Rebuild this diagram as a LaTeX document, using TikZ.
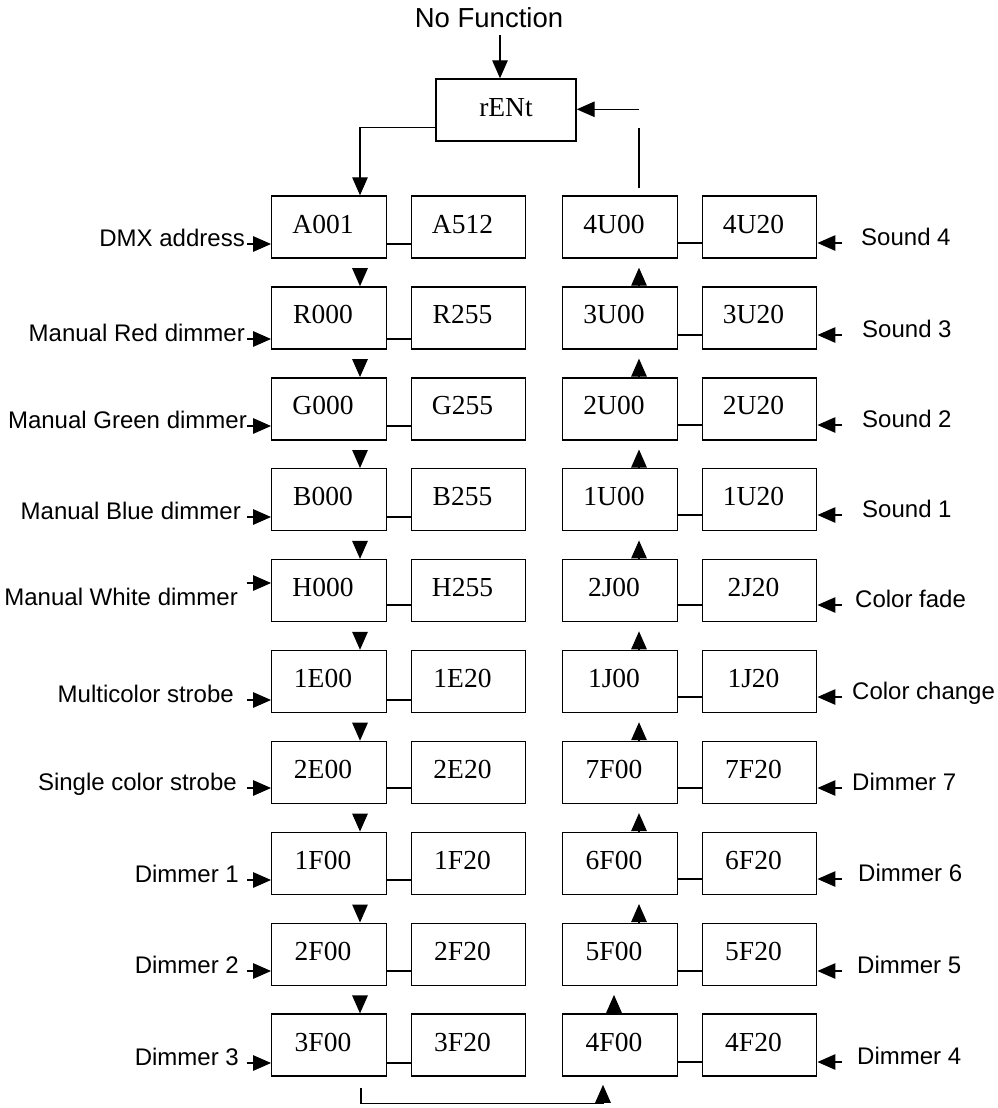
\documentclass[tikz,border=0pt]{standalone}
\usepackage{fontspec}
\setmainfont{Liberation Serif}
\newfontfamily\arialf{Liberation Sans}
\usetikzlibrary{arrows.meta}
\begin{document}
\begin{tikzpicture}[x=1pt,y=-1pt,
 >={Triangle[length=18pt,width=15.5pt]},
 box/.style={draw, line width=1.4pt, minimum width=114.5pt, minimum height=62pt, inner sep=0pt,
   text height=12pt, text depth=0pt, font=\fontsize{27.5}{30}\selectfont},
 lbl/.style={inner sep=0pt, font=\arialf\fontsize{24}{28}\selectfont},
 arr/.style={->, line width=1.3pt},
 ln/.style={line width=1.3pt}]
\useasboundingbox (0,0) rectangle (998,1108);

% top
\node[lbl, font=\arialf\fontsize{27.5}{30}\selectfont, anchor=base] (nf) at (489,28) {No Function};
\node[box, minimum width=140pt] (rent) at (506,110) {rENt};
\coordinate (nfa) at (500,35);
\draw[arr] (nfa) -- (nfa |- rent.north);

% left columns
\foreach \i/\a/\b/\lab/\lx/\ay/\cy/\by in {
0/A001/A512/DMX address/245/244/244/246,
1/R000/R255/Manual Red dimmer/245/339/339/341,
2/G000/G255/Manual Green dimmer/247/426/426/428,
3/B000/B255/Manual Blue dimmer/241/517/517/519,
4/H000/H255/Manual White dimmer/238/583/605/605,
5/1E00/1E20/Multicolor strobe/234/700/700/702,
6/2E00/2E20/Single color strobe/237/788/788/790,
7/1F00/1F20/Dimmer 1/239/880/880/882,
8/2F00/2F20/Dimmer 2/239/971/971/973,
9/3F00/3F20/Dimmer 3/239/1063/1063/1065}
{
 \node[box] (L\i) at (329,{227+90.9*\i}) {\a\hspace*{12pt}};
 \node[box] (M\i) at (468.5,{227+90.9*\i}) {\b\hspace*{12pt}};
 \node[lbl, anchor=base east] (ll\i) at (\lx,\by) {\lab};
 \coordinate (la\i) at (247,\ay);
 \draw[arr] (la\i) -- (la\i -| L\i.west);
 \coordinate (lc\i) at (329,\cy);
 \draw[ln] (lc\i -| L\i.east) -- (lc\i -| M\i.west);
}

% right columns
\foreach \i/\a/\b/\lab/\lx/\ay in {
0/4U00/4U20/Sound 4/861/243,
1/3U00/3U20/Sound 3/862/335,
2/2U00/2U20/Sound 2/862/425,
3/1U00/1U20/Sound 1/862/515,
4/2J00/2J20/Color fade/855/605,
5/1J00/1J20/Color change/852/697,
6/7F00/7F20/Dimmer 7/852/788,
7/6F00/6F20/Dimmer 6/858/879,
8/5F00/5F20/Dimmer 5/857/971,
9/4F00/4F20/Dimmer 4/857/1062}
{
 \node[box] (R\i) at (620,{227+90.9*\i}) {\a\hspace*{12pt}};
 \node[box] (S\i) at (759.5,{227+90.9*\i}) {\b\hspace*{12pt}};
 \node[lbl, anchor=base west] (rl\i) at (\lx,{\ay+2}) {\lab};
 \coordinate (ra\i) at (842,\ay);
 \draw[arr] (ra\i) -- (ra\i -| S\i.east);
 \draw[ln] (ra\i -| R\i.east) -- (ra\i -| S\i.west);
}

% rENt -> A001
\draw[arr] ([yshift=14pt]rent.south west) -| ([xshift=31pt]L0.north);
% 4U00 -> rENt (broken)
\coordinate (ua) at ([xshift=19pt,yshift=7pt]R0.north);
\coordinate (ub) at ([yshift=14pt]rent.south east -| ua);
\draw[ln] (ua) -- (ub);
\coordinate (uc) at ([yshift=-31pt]rent.north east -| ua);
\draw[arr] (uc) -- (uc -| rent.east);

% left vertical arrows
\foreach \i/\j in {0/1,1/2,2/3,3/4,4/5,5/6,6/7,7/8,8/9}
 \draw[arr] ([xshift=31pt,yshift=-10pt]L\i.south) -- ([xshift=31pt]L\j.north);
% right vertical arrows
\foreach \i/\j/\dx in {0/1/19,1/2/19,2/3/19,3/4/19,4/5/19,5/6/19,6/7/19,7/8/19,8/9/-6}
 \draw[arr] ([xshift=\dx pt]R\j.north) -- ([xshift=\dx pt,yshift=-9pt]R\i.south);

% bottom connector
\draw[arr] ([xshift=32pt,yshift=-11pt]L9.south) -- ++(0,16) -| ([xshift=-17pt,yshift=-8pt]R9.south);
\end{tikzpicture}
\end{document}
